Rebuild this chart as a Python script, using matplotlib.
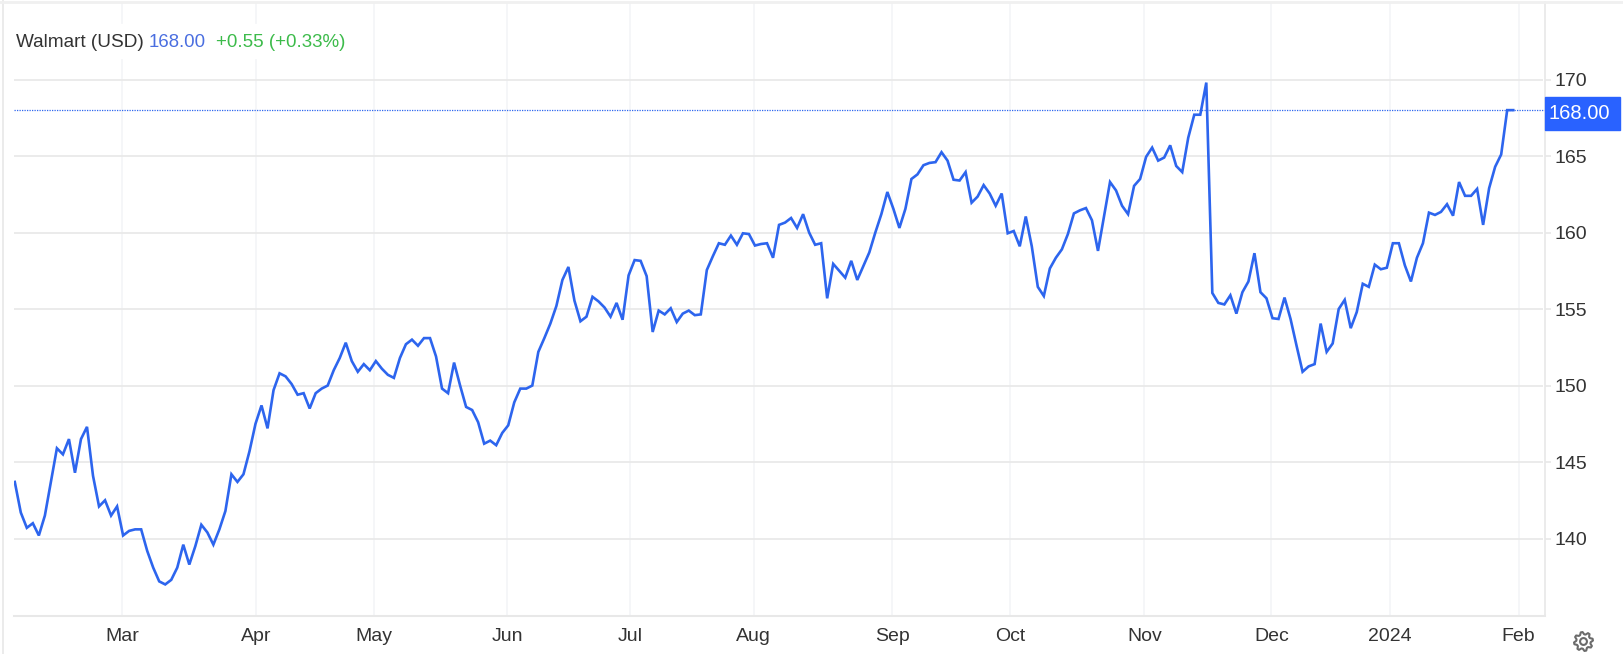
# Walmart share price chart, Feb 2023 to Feb 2024
import numpy as np
import matplotlib
matplotlib.use("Agg")
import matplotlib.pyplot as plt
from matplotlib.lines import Line2D
from matplotlib.patches import Circle, Polygon, Rectangle

# Closing prices, one per trading day
prices = [
    143.7, 141.7, 140.7, 141.0, 140.2, 141.5, 143.7, 145.9, 145.5, 146.5,
    144.3, 146.5, 147.3, 144.1, 142.1, 142.5, 141.5, 142.1, 140.2, 140.5,
    140.6, 140.6, 139.2, 138.1, 137.2, 137.0, 137.3, 138.1, 139.6, 138.3,
    139.5, 140.9, 140.4, 139.6, 140.6, 141.8, 144.2, 143.7, 144.2, 145.7,
    147.5, 148.7, 147.2, 149.7, 150.8, 150.6, 150.1, 149.4, 149.5, 148.5,
    149.5, 149.8, 150.0, 151.0, 151.8, 152.8, 151.6, 150.9, 151.4, 151.0,
    151.6, 151.1, 150.7, 150.5, 151.8, 152.7, 153.0, 152.6, 153.1, 153.1,
    151.9, 149.8, 149.5, 151.5, 150.0, 148.6, 148.4, 147.6, 146.2, 146.4,
    146.1, 146.9, 147.4, 148.9, 149.8, 149.8, 150.0, 152.2, 153.1, 154.05,
    155.2, 156.9, 157.75, 155.55, 154.2, 154.5, 155.8, 155.5, 155.1, 154.5,
    155.4, 154.3, 157.2, 158.2, 158.15, 157.15, 153.5, 154.9, 154.65, 155.05,
    154.15, 154.7, 154.9, 154.6, 154.65, 157.55, 158.45, 159.3, 159.2, 159.8,
    159.2, 159.95, 159.9, 159.15, 159.25, 159.3, 158.35, 160.5, 160.65, 160.95,
    160.3, 161.2, 160.0, 159.2, 159.3, 155.7, 157.95, 157.5, 157.05, 158.15,
    156.9, 157.8, 158.7, 160.0, 161.2, 162.65, 161.55, 160.3, 161.55, 163.5,
    163.8, 164.4, 164.55, 164.6, 165.25, 164.7, 163.45, 163.4, 163.95, 161.95,
    162.35, 163.1, 162.55, 161.75, 162.55, 159.95, 160.1, 159.1, 161.05, 159.1,
    156.45, 155.85, 157.65, 158.35, 158.9, 159.9, 161.25, 161.45, 161.6, 160.8,
    158.8, 161.05, 163.3, 162.75, 161.75, 161.2, 163.05, 163.5, 164.95, 165.55,
    164.7, 164.9, 165.7, 164.35, 163.95, 166.2, 167.7, 167.7, 169.8, 156.05,
    155.4, 155.3, 155.9, 154.7, 156.1, 156.8, 158.65, 156.1, 155.7, 154.4,
    154.35, 155.75, 154.35, 152.6, 150.9, 151.25, 151.4, 154.05, 152.2, 152.75,
    155.0, 155.6, 153.75, 154.8, 156.65, 156.45, 157.9, 157.6, 157.7, 159.3,
    159.3, 157.85, 156.8, 158.35, 159.3, 161.3, 161.15, 161.35, 161.85, 161.1,
    163.3, 162.4, 162.4, 162.85, 160.5, 162.9, 164.3, 165.1, 168.0, 168.0,
]

# Month labels and where they fall in trading day index
month_labels = ["Mar", "Apr", "May", "Jun", "Jul", "Aug", "Sep", "Oct", "Nov", "Dec", "2024", "Feb"]
month_pos = [17.8, 40.1, 59.7, 81.8, 102.2, 122.8, 145.8, 165.4, 187.7, 208.8, 228.5, 249.9]
y_ticks = [140, 145, 150, 155, 160, 165, 170]
last_price = 168.00

W, H = 1623, 654
LINE_BLUE = "#2d65ee"
GRID = "#e8e8e8"
GRID_V = "#f2f4f7"
TEXT = "#333333"


def px_rect(left, top, right, bottom):
    # Pixel box (y from the top) to figure fractions
    return [left / W, 1 - bottom / H, (right - left) / W, (bottom - top) / H]


def draw_gear(fig, cx, cy, r):
    # Outline settings icon, drawn in display pixels
    teeth = 8
    angles = np.linspace(0, 2 * np.pi, teeth * 4, endpoint=False) + np.pi / teeth / 4
    radii = np.tile([r, r, r * 0.76, r * 0.76], teeth)
    pts = np.column_stack([cx + radii * np.cos(angles), H - cy + radii * np.sin(angles)])
    fig.add_artist(Polygon(pts, closed=True, fill=False, edgecolor="#6b6b6b", linewidth=1.5,
                           joinstyle="round", transform=None))
    fig.add_artist(Circle((cx, H - cy), r * 0.36, fill=False, edgecolor="#6b6b6b", linewidth=1.5, transform=None))


def main():
    plt.rcParams["font.family"] = ["Liberation Sans", "DejaVu Sans"]
    fig = plt.figure(figsize=(W / 100, H / 100), dpi=100, facecolor="white")

    # Plot area runs from 14 to 1544.5 px across and 1.5 to 615.5 px down
    ax = fig.add_axes(px_rect(14, 1.5, 1544.5, 615.5))
    ax.set_xlim(-0.13, 254.2)
    ax.set_ylim(134.97, 175.1)

    ax.hlines(y_ticks, -0.13, 253.9, color=GRID, linewidth=1.2, zorder=1)
    ax.vlines(month_pos, 134.97, 175.1, color=GRID_V, linewidth=1.1, zorder=0)
    ax.axhline(last_price, color=LINE_BLUE, linewidth=0.9, linestyle=(0, (1, 1)), zorder=2)
    ax.plot(range(len(prices)), prices, color=LINE_BLUE, linewidth=1.9, solid_joinstyle="miter", zorder=3)

    for s in ["top", "left"]:
        ax.spines[s].set_visible(False)
    ax.spines["right"].set_color(GRID)
    ax.spines["right"].set_linewidth(1.2)
    ax.spines["bottom"].set_color(GRID)
    ax.spines["bottom"].set_linewidth(1.5)

    ax.set_xticks(month_pos, month_labels)
    ax.tick_params(axis="x", length=0, pad=9, labelsize=14, labelcolor=TEXT)
    ax.yaxis.tick_right()
    ax.set_yticks(y_ticks)
    ax.tick_params(axis="y", length=4, width=1.2, color=GRID, pad=3, labelsize=14, labelcolor=TEXT)

    # Outer frame lines
    fig.add_artist(Line2D([3.5 / W, 3.5 / W], [0, 1], color=GRID, linewidth=1.2))
    fig.add_artist(Line2D([0, 1], [1 - 2 / H, 1 - 2 / H], color="#f0f0f0", linewidth=2))

    # Header with white behind it, it hides the month gridlines
    fig.add_artist(Rectangle((14 / W, 1 - 58 / H), 335 / W, 34 / H, color="white", transform=fig.transFigure, zorder=2))
    hy = 1 - 42.5 / H
    fig.text(16 / W, hy, "Walmart (USD)", color=TEXT, fontsize=13.7, va="center", zorder=3)
    fig.text(149 / W, hy, "168.00", color="#4a6ee0", fontsize=13.4, va="center", zorder=3)
    fig.text(216 / W, hy, "+0.55 (+0.33%)", color="#3dbb4b", fontsize=13.5, va="center", zorder=3)

    # Current price tag on the right axis
    fig.add_artist(Rectangle((1545 / W, 1 - 130 / H), 75 / W, 33 / H, color="#2962ff", transform=fig.transFigure, zorder=4))
    fig.text(1579.5 / W, 1 - 113.5 / H, "168.00", color="white", fontsize=14.5, ha="center", va="center", zorder=5)

    draw_gear(fig, 1583.5, 641.5, 9.5)

    fig.savefig("out.png", dpi=100)


if __name__ == "__main__":
    main()
